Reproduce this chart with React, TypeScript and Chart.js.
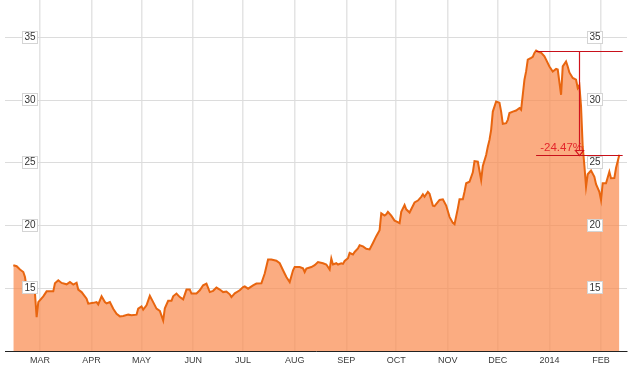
import React, { useEffect, useRef } from "react";
import { Chart, registerables } from "chart.js";

Chart.register(...registerables);

// ---- data ----
const dates: string[] = [
  "2013-02-13", "2013-02-15", "2013-02-17", "2013-02-19", "2013-02-20", "2013-02-21", "2013-02-24", "2013-02-26", "2013-02-27", "2013-02-28",
  "2013-03-03", "2013-03-05", "2013-03-09", "2013-03-10", "2013-03-12", "2013-03-14", "2013-03-17", "2013-03-19", "2013-03-21", "2013-03-23",
  "2013-03-24", "2013-03-26", "2013-03-29", "2013-03-30", "2013-04-02", "2013-04-04", "2013-04-05", "2013-04-07", "2013-04-09", "2013-04-10",
  "2013-04-12", "2013-04-14", "2013-04-16", "2013-04-18", "2013-04-20", "2013-04-23", "2013-04-25", "2013-04-28", "2013-04-29", "2013-05-01",
  "2013-05-02", "2013-05-04", "2013-05-06", "2013-05-08", "2013-05-10", "2013-05-12", "2013-05-14", "2013-05-15", "2013-05-17", "2013-05-19",
  "2013-05-20", "2013-05-22", "2013-05-24", "2013-05-26", "2013-05-28", "2013-05-30", "2013-05-31", "2013-06-03", "2013-06-05", "2013-06-07",
  "2013-06-09", "2013-06-11", "2013-06-13", "2013-06-15", "2013-06-17", "2013-06-19", "2013-06-21", "2013-06-23", "2013-06-24", "2013-06-26",
  "2013-06-29", "2013-07-01", "2013-07-02", "2013-07-04", "2013-07-07", "2013-07-09", "2013-07-12", "2013-07-14", "2013-07-16", "2013-07-18",
  "2013-07-21", "2013-07-23", "2013-07-25", "2013-07-27", "2013-07-29", "2013-07-31", "2013-08-01", "2013-08-04", "2013-08-06", "2013-08-07",
  "2013-08-08", "2013-08-11", "2013-08-13", "2013-08-15", "2013-08-18", "2013-08-20", "2013-08-22", "2013-08-23", "2013-08-24", "2013-08-26",
  "2013-08-27", "2013-08-29", "2013-08-30", "2013-08-31", "2013-09-02", "2013-09-03", "2013-09-05", "2013-09-06", "2013-09-08", "2013-09-09",
  "2013-09-11", "2013-09-13", "2013-09-15", "2013-09-17", "2013-09-19", "2013-09-21", "2013-09-22", "2013-09-24", "2013-09-25", "2013-09-26",
  "2013-09-28", "2013-09-30", "2013-10-01", "2013-10-03", "2013-10-04", "2013-10-06", "2013-10-07", "2013-10-09", "2013-10-12", "2013-10-14",
  "2013-10-16", "2013-10-17", "2013-10-18", "2013-10-20", "2013-10-21", "2013-10-23", "2013-10-24", "2013-10-27", "2013-10-29", "2013-10-31",
  "2013-11-02", "2013-11-04", "2013-11-05", "2013-11-07", "2013-11-08", "2013-11-10", "2013-11-11", "2013-11-12", "2013-11-14", "2013-11-16",
  "2013-11-17", "2013-11-19", "2013-11-21", "2013-11-22", "2013-11-24", "2013-11-25", "2013-11-26", "2013-11-27", "2013-11-28", "2013-11-30",
  "2013-12-02", "2013-12-03", "2013-12-04", "2013-12-06", "2013-12-07", "2013-12-08", "2013-12-10", "2013-12-12", "2013-12-14", "2013-12-15",
  "2013-12-17", "2013-12-18", "2013-12-19", "2013-12-21", "2013-12-22", "2013-12-23", "2013-12-24", "2013-12-26", "2013-12-27", "2013-12-29",
  "2013-12-30", "2014-01-01", "2014-01-03", "2014-01-05", "2014-01-06", "2014-01-08", "2014-01-09", "2014-01-11", "2014-01-12", "2014-01-13",
  "2014-01-15", "2014-01-17", "2014-01-18", "2014-01-19", "2014-01-20", "2014-01-21", "2014-01-22", "2014-01-23", "2014-01-24", "2014-01-26",
  "2014-01-28", "2014-01-29", "2014-01-31", "2014-02-01", "2014-02-02", "2014-02-04", "2014-02-06", "2014-02-07", "2014-02-09", "2014-02-10",
  "2014-02-12",
];

const prices: number[] = [
  16.84, 16.76, 16.5, 16.3, 15.9, 15.0, 14.8, 14.6, 12.7, 13.9,
  14.36, 14.76, 14.76, 15.4, 15.64, 15.43, 15.32, 15.5, 15.3, 15.45,
  14.9, 14.7, 14.17, 13.78, 13.84, 13.9, 13.72, 14.36, 13.9, 13.8,
  13.9, 13.37, 12.97, 12.76, 12.8, 12.9, 12.85, 12.9, 13.38, 13.56,
  13.3, 13.64, 14.4, 13.9, 13.38, 13.2, 12.44, 13.4, 14.0, 14.0,
  14.36, 14.58, 14.3, 14.12, 14.9, 14.9, 14.58, 14.58, 14.84, 15.24,
  15.38, 14.7, 14.8, 15.06, 14.9, 14.7, 14.75, 14.52, 14.3, 14.6,
  14.84, 15.1, 15.15, 14.97, 15.24, 15.38, 15.4, 16.18, 17.3, 17.3,
  17.2, 17.0, 16.44, 15.9, 15.5, 16.44, 16.7, 16.7, 16.6, 16.3,
  16.58, 16.7, 16.84, 17.1, 17.0, 16.9, 16.5, 17.38, 16.9, 17.0,
  16.9, 17.0, 16.95, 17.18, 17.4, 17.82, 17.7, 17.9, 18.18, 18.44,
  18.35, 18.15, 18.1, 18.62, 19.16, 19.64, 20.98, 20.8, 20.9, 21.1,
  20.8, 20.4, 20.34, 20.2, 21.1, 21.64, 21.3, 21.05, 21.85, 22.0,
  22.3, 22.5, 22.3, 22.7, 22.55, 21.6, 21.56, 22.05, 22.1, 21.6,
  20.7, 20.22, 20.12, 21.38, 22.1, 22.1, 22.7, 23.38, 23.5, 24.25,
  25.15, 25.1, 23.64, 24.76, 25.64, 26.3, 26.84, 27.64, 29.1, 29.9,
  29.8, 29.1, 28.12, 28.18, 28.44, 28.98, 29.1, 29.18, 29.38, 29.24,
  31.64, 32.3, 33.24, 33.38, 33.46, 33.78, 33.96, 33.82, 33.8, 33.5,
  33.24, 32.7, 32.3, 32.5, 32.45, 30.44, 32.7, 33.1, 32.7, 32.22,
  31.78, 31.64, 30.98, 31.2, 29.5, 26.3, 24.8, 23.1, 24.1, 24.4,
  23.9, 23.3, 22.7, 22.04, 23.38, 23.38, 24.3, 23.78, 23.8, 24.6,
  25.65,
];

const monthTickDates: string[] = [
  "2013-03-01", "2013-04-01", "2013-05-01", "2013-06-01", "2013-07-01", "2013-08-01",
  "2013-09-01", "2013-10-01", "2013-11-01", "2013-12-01", "2014-01-01", "2014-02-01",
];
const monthTickLabels: string[] = [
  "MAR", "APR", "MAY", "JUN", "JUL", "AUG", "SEP", "OCT", "NOV", "DEC", "2014", "FEB",
];
const yTickValues: number[] = [15, 20, 25, 30, 35];
const yRange: number[] = [10, 38];
const xRangeDates: string[] = ["2013-02-08", "2014-02-16"];

const dropMarkerDate = "2014-01-19";
const annotationEndDate = "2014-02-14";

// ---- helpers ----
const BASE = Date.UTC(2013, 2, 1);
const toDay = (s: string): number => {
  const [y, m, d] = s.split("-").map(Number);
  return (Date.UTC(y, m - 1, d) - BASE) / 86400000;
};

const FONT = '"Liberation Sans", Arial, sans-serif';

const overlayPlugin = {
  id: "overlay",
  afterDatasetsDraw(chart: any) {
    const { ctx, chartArea, scales } = chart;
    const xS = scales.x;
    const yS = scales.y;
    ctx.save();

    // y labels in boxes, left & right
    ctx.font = `10px ${FONT}`;
    ctx.textAlign = "center";
    ctx.textBaseline = "middle";
    const leftX = chartArea.left + 25;
    const rightX = chartArea.right - 32;
    for (const v of yTickValues) {
      const py = yS.getPixelForValue(v) - 1;
      const label = String(v);
      const w = ctx.measureText(label).width + 4;
      const h = 12;
      for (const cx of [leftX, rightX]) {
        ctx.fillStyle = "#ffffff";
        ctx.fillRect(Math.round(cx - w / 2) + 0.5, Math.round(py - h / 2) + 0.5, Math.round(w), h);
        ctx.strokeStyle = "#d4d4d4";
        ctx.lineWidth = 1;
        ctx.strokeRect(Math.round(cx - w / 2) + 0.5, Math.round(py - h / 2) + 0.5, Math.round(w), h);
        ctx.fillStyle = "#333333";
        ctx.fillText(label, cx, py + 0.5);
      }
    }

    // drawdown annotation
    let peakIdx = 0;
    prices.forEach((p, i) => {
      if (p > prices[peakIdx]) peakIdx = i;
    });
    const lastIdx = prices.length - 1;
    const xs = xS.getPixelForValue(toDay(dates[peakIdx]));
    const xe = xS.getPixelForValue(toDay(annotationEndDate));
    const xa = Math.round(xS.getPixelForValue(toDay(dropMarkerDate))) + 0.5;
    const yTop = Math.round(yS.getPixelForValue(prices[peakIdx])) + 0.5;
    const yBot = Math.round(yS.getPixelForValue(prices[lastIdx])) + 0.5;

    ctx.strokeStyle = "#c8101a";
    ctx.lineWidth = 1;
    ctx.beginPath();
    ctx.moveTo(xs, yTop);
    ctx.lineTo(xe, yTop);
    ctx.moveTo(xs, yBot);
    ctx.lineTo(xe, yBot);
    ctx.stroke();

    ctx.strokeStyle = "#d0141c";
    ctx.lineWidth = 1.2;
    ctx.beginPath();
    ctx.moveTo(xa, yTop);
    ctx.lineTo(xa, yBot - 5);
    ctx.stroke();
    ctx.beginPath();
    ctx.moveTo(xa - 4, yBot - 5);
    ctx.lineTo(xa + 4, yBot - 5);
    ctx.lineTo(xa, yBot);
    ctx.closePath();
    ctx.stroke();

    const pct = ((prices[lastIdx] / prices[peakIdx] - 1) * 100).toFixed(2) + "%";
    ctx.fillStyle = "#e3262b";
    ctx.font = `11.5px ${FONT}`;
    ctx.textAlign = "right";
    ctx.textBaseline = "alphabetic";
    ctx.fillText(pct, xa + 3.5, yBot - 5);

    ctx.restore();
  },
};

export default function App() {
  const canvasRef = useRef<HTMLCanvasElement | null>(null);

  useEffect(() => {
    document.body.style.margin = "0";
    const canvas = canvasRef.current;
    if (!canvas) return;
    const points = dates.map((d, i) => ({ x: toDay(d), y: prices[i] }));
    const tickDays = monthTickDates.map(toDay);

    const chart = new Chart(canvas, {
      type: "line",
      data: {
        datasets: [
          {
            data: points,
            borderColor: "#e8650f",
            borderWidth: 2,
            backgroundColor: "rgba(250,140,80,0.72)",
            fill: "start",
            pointRadius: 0,
            tension: 0,
          },
        ],
      },
      options: {
        animation: false,
        responsive: false,
        maintainAspectRatio: false,
        parsing: false as any,
        layout: { padding: { left: 5, right: 2, top: 0, bottom: 0 } },
        plugins: {
          legend: { display: false },
          tooltip: { enabled: false },
        },
        scales: {
          x: {
            type: "linear",
            min: toDay(xRangeDates[0]),
            max: toDay(xRangeDates[1]) + 0.6,
            afterBuildTicks: (scale: any) => {
              scale.ticks = tickDays.map((v) => ({ value: v }));
            },
            afterFit: (scale: any) => {
              scale.height = 18;
            },
            ticks: {
              autoSkip: false,
              maxRotation: 0,
              padding: 4,
              color: "#3a3a3a",
              font: { family: FONT, size: 9 },
              callback: (value: any) => {
                const i = tickDays.indexOf(Number(value));
                return i >= 0 ? monthTickLabels[i] : "";
              },
            },
            grid: { color: "#e4e4e4", lineWidth: 1.5, drawTicks: false },
            border: { display: true, color: "#222222", width: 1 },
          },
          y: {
            type: "linear",
            min: yRange[0],
            max: yRange[1],
            afterBuildTicks: (scale: any) => {
              scale.ticks = yTickValues.map((v) => ({ value: v }));
            },
            ticks: { display: false },
            grid: { color: "#dcdcdc", lineWidth: 1, drawTicks: false },
            border: { display: false },
          },
        },
      },
      plugins: [overlayPlugin],
    });

    return () => chart.destroy();
  }, []);

  return (
    <div style={{ width: 629, height: 369, background: "#ffffff" }}>
      <canvas ref={canvasRef} width={629} height={369} style={{ display: "block" }} />
    </div>
  );
}
